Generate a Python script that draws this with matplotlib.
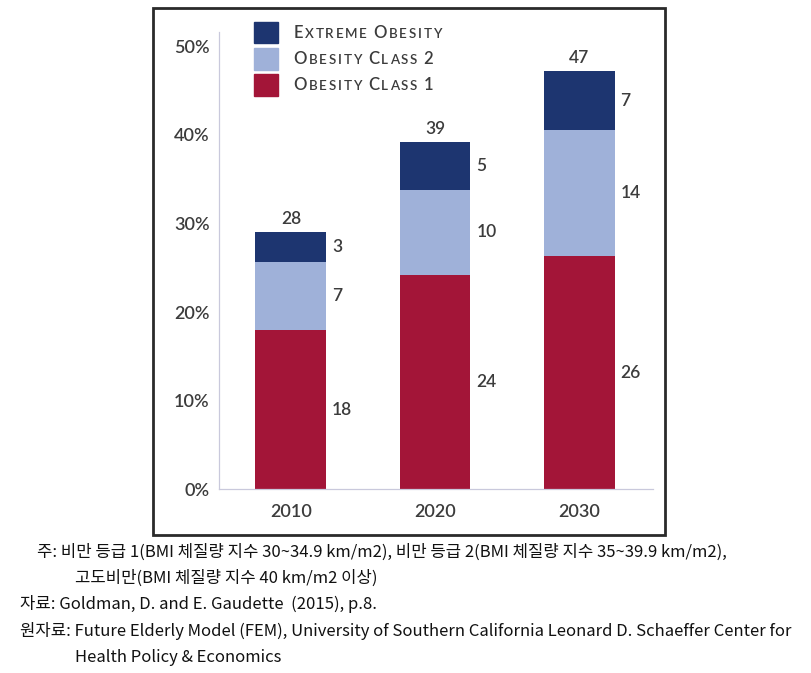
import matplotlib.pyplot as plt
from matplotlib.patches import Rectangle

# dados (percentagem da populacao)
anos = ['2010', '2020', '2030']
classe1 = [18.0, 24.2, 26.3]
classe2 = [7.6, 9.6, 14.2]
extrema = [3.4, 5.4, 6.7]
rot_classe1 = ['18', '24', '26']
rot_classe2 = ['7', '10', '14']
rot_extrema = ['3', '5', '7']
rot_total = ['28', '39', '47']
yticks = [0, 10, 20, 30, 40, 50]
nomes = ['Extreme Obesity', 'Obesity Class 2', 'Obesity Class 1']

notas = [
    (37, 552, '주: 비만 등급 1(BMI 체질량 지수 30~34.9 km/m2), 비만 등급 2(BMI 체질량 지수 35~39.9 km/m2),'),
    (75, 578, '고도비만(BMI 체질량 지수 40 km/m2 이상)'),
    (20, 604, '자료: Goldman, D. and E. Gaudette  (2015), p.8.'),
    (20, 631, '원자료: Future Elderly Model (FEM), University of Southern California Leonard D. Schaeffer Center for'),
    (75, 657, 'Health Policy & Economics'),
]

azul = '#1d3570'
azul_claro = '#9fb1d9'
vermelho = '#a31538'
cinza = '#3c3c3c'
W, H = 811, 673

fig = plt.figure(figsize=(8.11, 6.73), dpi=100)
ax = fig.add_axes([218.7 / W, 1 - 489.3 / H, (653 - 218.7) / W, (489.3 - 32) / H])

x = range(len(anos))
largura = 0.49
base2 = [a + b for a, b in zip(classe1, classe2)]
topo = [a + b for a, b in zip(base2, extrema)]
ax.bar(x, classe1, width=largura, color=vermelho)
ax.bar(x, classe2, width=largura, bottom=classe1, color=azul_claro)
ax.bar(x, extrema, width=largura, bottom=base2, color=azul)

# rotulos ao lado de cada segmento
for i in x:
    xd = i + largura / 2 + 0.04
    ax.text(xd, classe1[i] / 2, rot_classe1[i], ha='left', va='center', fontsize=12.5,
            fontweight='semibold', color=cinza, family='Lato')
    ax.text(xd, classe1[i] + classe2[i] / 2, rot_classe2[i], ha='left', va='center', fontsize=12.5,
            fontweight='semibold', color=cinza, family='Lato')
    ax.text(xd, base2[i] + extrema[i] / 2, rot_extrema[i], ha='left', va='center', fontsize=12.5,
            fontweight='semibold', color=cinza, family='Lato')
    ax.annotate(rot_total[i], (i, topo[i]), xytext=(0, 9.4), textcoords='offset points',
                ha='center', va='center', fontsize=12.5, fontweight='semibold', color=cinza, family='Lato')

ax.set_xlim(-0.5, 2.51)
ax.set_ylim(0, 51.6)
ax.set_xticks(list(x), anos)
ax.set_yticks(yticks, [f'{v}%' for v in yticks])
ax.tick_params(length=0, labelsize=13, labelcolor=cinza)
ax.tick_params(axis='y', pad=6.5)
ax.tick_params(axis='x', pad=10.5)
for t in ax.get_xticklabels() + ax.get_yticklabels():
    t.set_family('Lato')
    t.set_fontweight('semibold')
for s in ['top', 'right']:
    ax.spines[s].set_visible(False)
for s in ['left', 'bottom']:
    ax.spines[s].set_color('#c9c9dc')
    ax.spines[s].set_linewidth(0.9)

# legenda feita a mao (versalete, letra por letra com espacamento)
renderer = fig.canvas.get_renderer()

def versalete(xp, yp, texto):
    xf = xp
    for palavra in texto.split(' '):
        for k, c in enumerate(palavra.upper()):
            tam = 12 if k == 0 else 9.6
            t = fig.text(xf / W, 1 - yp / H, c, fontsize=tam, va='baseline', ha='left', color=cinza,
                         family='Lato', fontweight='semibold')
            xf += t.get_window_extent(renderer).width + 1.8
        xf += 4.5

cores = [azul, azul_claro, vermelho]
for k, (nome, cor) in enumerate(zip(nomes, cores)):
    y0 = 21.7 + k * 26.2
    fig.add_artist(Rectangle((254.3 / W, 1 - (y0 + 21.6) / H), 23.4 / W, 21.6 / H,
                             transform=fig.transFigure, color=cor))
    versalete(293.3, 37.5 + k * 26.2, nome)

# moldura
fig.add_artist(Rectangle((152.5 / W, 1 - 535 / H), (664.5 - 152.5) / W, (535 - 8) / H,
                         transform=fig.transFigure, fill=False, lw=2, ec='#2a2a2a'))

# notas em coreano
for xp, yp, s in notas:
    fig.text(xp / W, 1 - yp / H, s, va='center', ha='left', fontsize=12, color='#111111',
             family=['Noto Sans CJK KR', 'DejaVu Sans'])

fig.savefig('out.png', dpi=100)
